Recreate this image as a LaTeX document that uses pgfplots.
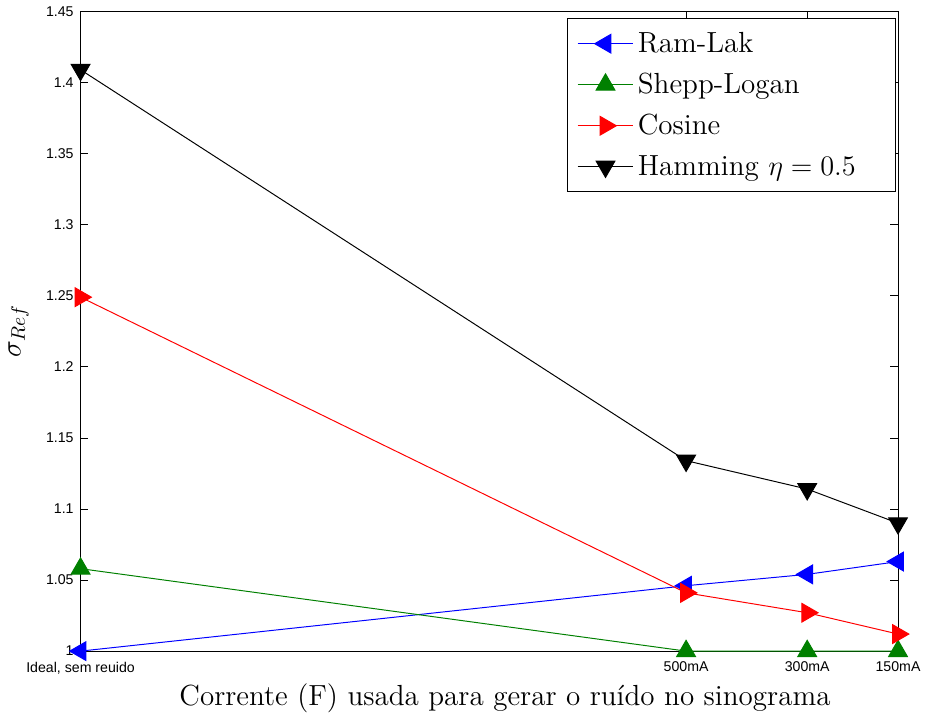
\documentclass[border=0pt]{standalone}
\usepackage{fontspec}
\usepackage{pgfplots}
\pgfplotsset{compat=1.18}
\newfontfamily\tickfont{Liberation Sans}
\definecolor{mgreen}{rgb}{0,0.5,0}
\begin{document}
\begin{tikzpicture}
\begin{axis}[
  name=ax,
  scale only axis,
  width=416pt, height=325.5pt,
  x dir=reverse,
  xmin=150, xmax=1500,
  ymin=1, ymax=1.45,
  xtick={1500,500,300,150},
  xticklabels={{Ideal, sem reuido},500mA,300mA,150mA},
  ytick={1,1.05,1.1,1.15,1.2,1.25,1.3,1.35,1.4,1.45},
  yticklabels={1,1.05,1.1,1.15,1.2,1.25,1.3,1.35,1.4,1.45},
  tick align=inside,
  major tick length=4pt,
  tick style={black, line width=0.4pt},
  ticklabel style={font=\tickfont\fontsize{7.2}{8}\selectfont},
  xticklabel style={yshift=-2pt},
  axis line style={line width=0.5pt},
  clip=false,
  xlabel={Corrente (F) usada para gerar o ruído no sinograma},
  ylabel={$\sigma_{Ref}$},
  label style={font=\fontsize{14.8}{17}\selectfont},
  xlabel style={yshift=2pt, xshift=8pt},
  ylabel style={yshift=2pt},
  legend style={at={(rel axis cs:0.997,0.99)}, anchor=north east,
    font=\fontsize{14.8}{17}\selectfont, draw=black, line width=0.5pt,
    inner xsep=5pt, inner ysep=5pt, row sep=5pt,
    legend cell align=left},
  legend image code/.code={
    \draw[mark repeat=2,mark phase=2] plot coordinates {(0cm,0cm) (0.5cm,0cm) (1.0cm,0cm)};},
]
\addplot[blue, line width=0.5pt, mark=triangle*, mark size=5.5pt, mark options={rotate=90, solid}]
  coordinates {(1500,1.000) (500,1.046) (300,1.054) (150,1.063)};
\addlegendentry{Ram-Lak}
\addplot[mgreen, line width=0.5pt, mark=triangle*, mark size=5.5pt, mark options={solid}]
  coordinates {(1500,1.058) (500,1.000) (300,1.000) (150,1.000)};
\addlegendentry{Shepp-Logan}
\addplot[red, line width=0.5pt, mark=triangle*, mark size=5.5pt, mark options={rotate=-90, solid}]
  coordinates {(1500,1.249) (500,1.041) (300,1.027) (150,1.012)};
\addlegendentry{Cosine}
\addplot[black, line width=0.5pt, mark=triangle*, mark size=5.5pt, mark options={rotate=180, solid}]
  coordinates {(1500,1.409) (500,1.134) (300,1.114) (150,1.090)};
\addlegendentry{Hamming $\eta = 0.5$\hspace*{13pt}}
\end{axis}
\path (ax.south west) ++(-41pt,10pt) rectangle ++(0.4pt,0.4pt);
\end{tikzpicture}
\end{document}
